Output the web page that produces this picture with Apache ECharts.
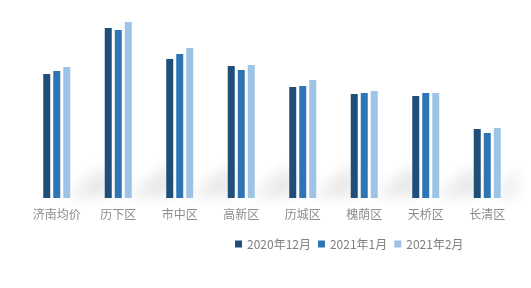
<!DOCTYPE html>
<html>
<head>
<meta charset="utf-8">
<script src="https://cdn.jsdelivr.net/npm/echarts@6/dist/echarts.min.js"></script>
<style>html,body{margin:0;padding:0;background:#fff}#c{width:531px;height:288px}</style>
</head>
<body>
<div id="c"></div>
<script>
var categories = ['济南均价', '历下区', '市中区', '高新区', '历城区', '槐荫区', '天桥区', '长清区'];
var seriesNames = ['2020年12月', '2021年1月', '2021年2月'];
var dec2020 = [124, 170, 139, 132, 111, 104, 102, 69];
var jan2021 = [127, 168, 144, 128, 112, 105, 105, 65];
var feb2021 = [131, 176, 150, 133, 118, 107, 105, 70];
var colors = ['#1F4E79', '#2E75B6', '#9DC3E6'];

var chart = echarts.init(document.getElementById('c'));
var FONT = '"Noto Sans CJK SC", "Noto Sans", sans-serif';
var OFF = 3000;

function shadowItem(params, api) {
  var base = api.coord([api.value(0), 0]);
  var band = api.size([1, 0])[0];
  var cs = params.coordSys;
  var limit = cs.x + cs.width - 2;
  var xR = base[0] + 10;
  var b = base[1] - 1;
  var w = band * 0.6;
  var h = 31;
  var pts = [[xR, b], [xR + w, b - h], [xR + w + 6, b - h + 2], [xR + w + 6, b]];
  pts = pts.map(function (p) { return [Math.min(p[0], limit) - OFF, p[1]]; });
  return {
    type: 'polygon',
    shape: { points: pts },
    style: {
      fill: '#000',
      shadowColor: 'rgba(0,0,0,0.09)',
      shadowBlur: 14,
      shadowOffsetX: OFF,
      shadowOffsetY: 0
    }
  };
}

var bars = [dec2020, jan2021, feb2021].map(function (d, i) {
  return {
    name: seriesNames[i],
    type: 'bar',
    data: d,
    barWidth: 7,
    barGap: '43%',
    itemStyle: { color: colors[i] },
    z: 3
  };
});

chart.setOption({
  animation: false,
  color: colors,
  grid: { left: 26, right: 13, top: 20, bottom: 90 },
  legend: {
    data: seriesNames,
    left: 235,
    top: 238,
    padding: 0,
    itemWidth: 7,
    itemHeight: 7,
    itemGap: 7,
    icon: 'rect',
    textStyle: { color: '#7f7f7f', fontSize: 12, fontFamily: FONT, padding: [0, 0, 0, 0] }
  },
  xAxis: {
    type: 'category',
    data: categories,
    axisLine: { show: false },
    axisTick: { show: false },
    axisLabel: { color: '#8c8c8c', fontSize: 12, fontFamily: FONT, margin: 10, interval: 0 }
  },
  yAxis: {
    type: 'value',
    min: 0,
    max: 178,
    show: false,
    splitLine: { show: false }
  },
  series: [{
    type: 'custom',
    name: 'shadow',
    renderItem: shadowItem,
    data: categories.map(function (c, i) { return [i]; }),
    z: 1,
    silent: true,
    clip: false
  }].concat(bars)
});
</script>
</body>
</html>
